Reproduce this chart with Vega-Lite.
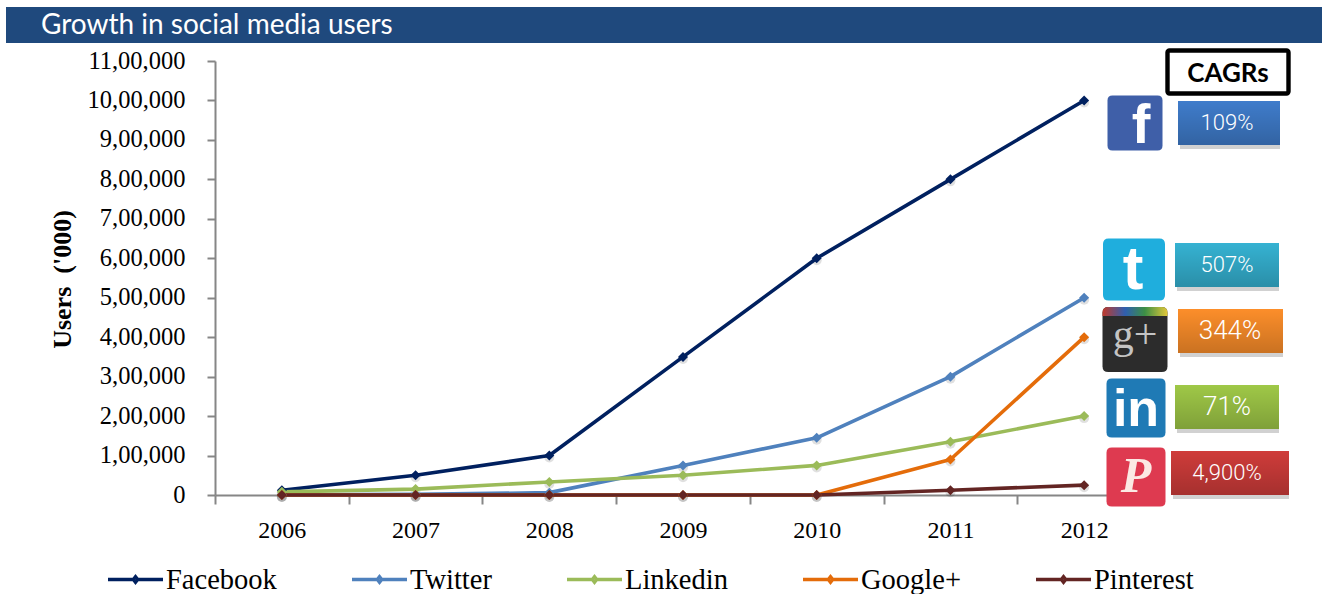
{
  "$schema": "https://vega.github.io/schema/vega-lite/v6.json",
  "autosize": {"type": "none"},
  "padding": {"left": 215, "top": 60, "right": 177, "bottom": 99},
  "width": 936,
  "height": 435,
  "background": "white",
  "config": {"view": {"stroke": null}},
  "datasets": {
    "users": [
      {"year": "2006", "network": "Facebook", "users": 12000},
      {"year": "2007", "network": "Facebook", "users": 50000},
      {"year": "2008", "network": "Facebook", "users": 100000},
      {"year": "2009", "network": "Facebook", "users": 350000},
      {"year": "2010", "network": "Facebook", "users": 600000},
      {"year": "2011", "network": "Facebook", "users": 800000},
      {"year": "2012", "network": "Facebook", "users": 1000000},
      {"year": "2006", "network": "Twitter", "users": 500},
      {"year": "2007", "network": "Twitter", "users": 1500},
      {"year": "2008", "network": "Twitter", "users": 6000},
      {"year": "2009", "network": "Twitter", "users": 75000},
      {"year": "2010", "network": "Twitter", "users": 145000},
      {"year": "2011", "network": "Twitter", "users": 300000},
      {"year": "2012", "network": "Twitter", "users": 500000},
      {"year": "2006", "network": "Linkedin", "users": 8000},
      {"year": "2007", "network": "Linkedin", "users": 15000},
      {"year": "2008", "network": "Linkedin", "users": 33000},
      {"year": "2009", "network": "Linkedin", "users": 50000},
      {"year": "2010", "network": "Linkedin", "users": 75000},
      {"year": "2011", "network": "Linkedin", "users": 135000},
      {"year": "2012", "network": "Linkedin", "users": 200000},
      {"year": "2006", "network": "Google+", "users": 0},
      {"year": "2007", "network": "Google+", "users": 0},
      {"year": "2008", "network": "Google+", "users": 0},
      {"year": "2009", "network": "Google+", "users": 0},
      {"year": "2010", "network": "Google+", "users": 0},
      {"year": "2011", "network": "Google+", "users": 90000},
      {"year": "2012", "network": "Google+", "users": 400000},
      {"year": "2006", "network": "Pinterest", "users": 0},
      {"year": "2007", "network": "Pinterest", "users": 0},
      {"year": "2008", "network": "Pinterest", "users": 0},
      {"year": "2009", "network": "Pinterest", "users": 0},
      {"year": "2010", "network": "Pinterest", "users": 0},
      {"year": "2011", "network": "Pinterest", "users": 12000},
      {"year": "2012", "network": "Pinterest", "users": 25000}
    ],
    "growth": [
      {"network": "Facebook", "cagr": "109%", "slot": 1, "end": 6, "glyph": "f"},
      {"network": "Twitter", "cagr": "507%", "slot": 2, "end": 7, "glyph": "t"},
      {"network": "Google+", "cagr": "344%", "slot": 3, "end": 8, "glyph": "g+"},
      {"network": "Linkedin", "cagr": "71%", "slot": 4, "end": 9, "glyph": "in"},
      {"network": "Pinterest", "cagr": "4,900%", "slot": 5, "end": 10, "glyph": "P"}
    ]
  },
  "layer": [
    {
      "data": {"values": [{"part": "banner"}]},
      "mark": {"type": "rect", "color": "#1F497D"},
      "encoding": {
        "x": {"datum": 0, "type": "quantitative", "scale": {"domain": [0, 1], "range": [-209, 1107]}, "axis": null},
        "x2": {"datum": 1},
        "y": {"datum": 0, "type": "quantitative", "scale": {"domain": [0, 1], "range": [-53, -17]}, "axis": null},
        "y2": {"datum": 1}
      }
    },
    {
      "data": {"values": [{"heading": "Growth in social media users"}]},
      "mark": {"type": "text", "font": "Lato", "fontSize": 28, "color": "#FFFFFF", "align": "left", "baseline": "middle"},
      "encoding": {
        "x": {"datum": 0, "type": "quantitative", "scale": {"domain": [0, 1], "range": [-174, 1107]}, "axis": null},
        "y": {"datum": 0, "type": "quantitative", "scale": {"domain": [0, 1], "range": [-34, 0]}, "axis": null},
        "text": {"field": "heading"}
      }
    },
    {
      "data": {"name": "users"},
      "mark": {"type": "point", "shape": "circle", "filled": true, "size": 100, "color": "#000000", "opacity": 0.12, "yOffset": 2},
      "encoding": {
        "x": {"field": "year", "type": "ordinal", "scale": {"type": "band", "paddingInner": 0, "paddingOuter": 0, "range": [0, 936]}, "axis": null},
        "y": {"field": "users", "type": "quantitative", "scale": {"domain": [0, 1100000], "range": [435, 1]}, "axis": null}
      }
    },
    {
      "data": {"name": "users"},
      "mark": {"type": "line", "strokeWidth": 3.6, "strokeJoin": "round", "strokeCap": "round"},
      "encoding": {
        "x": {
          "field": "year", "type": "ordinal",
          "scale": {"type": "band", "paddingInner": 0, "paddingOuter": 0, "range": [0, 936]},
          "axis": {"title": null, "labelAngle": 0, "labelFont": "Liberation Serif", "labelFontSize": 24, "labelColor": "#000000", "labelPadding": 14, "tickBand": "extent", "tickSize": 9, "tickWidth": 2, "tickColor": "#868686", "domainWidth": 2, "domainColor": "#868686", "grid": false}
        },
        "y": {
          "field": "users", "type": "quantitative",
          "scale": {"domain": [0, 1100000], "range": [435, 1]},
          "axis": {"title": "Users \u00a0('000)", "titleFont": "Liberation Serif", "titleFontWeight": "bold", "titleFontSize": 26, "titleColor": "#000000", "titleX": -140, "titleY": 219, "values": [0, 100000, 200000, 300000, 400000, 500000, 600000, 700000, 800000, 900000, 1000000, 1100000], "labelExpr": "datum.value == 0 ? '0' : (datum.value / 100000) + ',00,000'", "labelFont": "Liberation Serif", "labelFontSize": 24.5, "labelColor": "#000000", "labelPadding": 22, "tickSize": 8, "tickWidth": 2, "tickColor": "#868686", "domainWidth": 2, "domainColor": "#868686", "grid": false}
        },
        "stroke": {
          "field": "network", "type": "nominal",
          "scale": {"domain": ["Facebook", "Twitter", "Linkedin", "Google+", "Pinterest"], "range": ["#00205F", "#4F81BD", "#9BBB59", "#E46C0A", "#632523"]},
          "legend": {"title": null, "orient": "none", "legendX": -109, "legendY": 490, "direction": "horizontal", "columns": 5, "gridAlign": "each", "columnPadding": 68, "symbolType": "M-1,0H-.08L0,-.1L.08,0L0,.1L-.08,0M.08,0H1", "symbolSize": 3025, "symbolStrokeWidth": 3.4, "labelFont": "Liberation Serif", "labelFontSize": 28.5, "labelColor": "#000000", "labelOffset": 1, "labelLimit": 300}
        }
      }
    },
    {
      "data": {"name": "users"},
      "mark": {"type": "point", "shape": "diamond", "filled": true, "size": 100, "strokeWidth": 0.5, "opacity": 1},
      "encoding": {
        "x": {"field": "year", "type": "ordinal", "scale": {"type": "band", "paddingInner": 0, "paddingOuter": 0, "range": [0, 936]}, "axis": null},
        "y": {"field": "users", "type": "quantitative", "scale": {"domain": [0, 1100000], "range": [435, 1]}, "axis": null},
        "fill": {"field": "network", "type": "nominal", "scale": {"domain": ["Facebook", "Twitter", "Linkedin", "Google+", "Pinterest"], "range": ["#00205F", "#4F81BD", "#9BBB59", "#E46C0A", "#632523"]}, "legend": null}
      }
    },
    {
      "data": {"values": [{"heading": "CAGRs"}]},
      "mark": {"type": "rect", "fill": "white", "stroke": "#000000", "strokeWidth": 4.4, "cornerRadius": 2},
      "encoding": {
        "x": {"datum": 0, "type": "quantitative", "scale": {"domain": [0, 1], "range": [952.5, 1073.5]}, "axis": null},
        "x2": {"datum": 1},
        "y": {"datum": 0, "type": "quantitative", "scale": {"domain": [0, 1], "range": [-9.5, 33.5]}, "axis": null},
        "y2": {"datum": 1}
      }
    },
    {
      "data": {"values": [{"heading": "CAGRs"}]},
      "mark": {"type": "text", "font": "Lato", "fontWeight": "bold", "fontSize": 26, "color": "#000000", "align": "center", "baseline": "middle"},
      "encoding": {
        "x": {"datum": 0.5, "type": "quantitative", "scale": {"domain": [0, 1], "range": [952.5, 1073.5]}, "axis": null},
        "y": {"datum": 0.5, "type": "quantitative", "scale": {"domain": [0, 1], "range": [-8, 35]}, "axis": null},
        "text": {"field": "heading"}
      }
    },
    {
      "data": {"name": "growth"},
      "mark": {"type": "bar", "orient": "horizontal", "size": 44, "color": "#000000", "opacity": 0.18, "xOffset": 2, "yOffset": 4},
      "encoding": {
        "x": {"field": "slot", "type": "quantitative", "stack": null, "scale": {"domain": [1, 2, 3, 4, 5, 6, 7, 8, 9, 10], "range": [963, 960, 963, 960, 956, 1065, 1064, 1068, 1064, 1074]}, "axis": null},
        "x2": {"field": "end"},
        "y": {"field": "slot", "type": "quantitative", "scale": {"domain": [1, 2, 3, 4, 5], "range": [63, 205, 271, 347, 413], "padding": 0}, "axis": null}
      }
    },
    {
      "data": {"name": "growth"},
      "mark": {"type": "bar", "orient": "horizontal", "size": 44},
      "encoding": {
        "x": {"field": "slot", "type": "quantitative", "stack": null, "scale": {"domain": [1, 2, 3, 4, 5, 6, 7, 8, 9, 10], "range": [963, 960, 963, 960, 956, 1065, 1064, 1068, 1064, 1074]}, "axis": null},
        "x2": {"field": "end"},
        "y": {"field": "slot", "type": "quantitative", "scale": {"domain": [1, 2, 3, 4, 5], "range": [63, 205, 271, 347, 413], "padding": 0}, "axis": null},
        "fill": {"field": "network", "type": "nominal", "scale": {"domain": ["Facebook", "Twitter", "Google+", "Linkedin", "Pinterest"], "range": ["#3F7CCB", "#35B2D2", "#FC8E2A", "#9FC847", "#CF3C3A"]}, "legend": null}
      }
    },
    {
      "data": {"name": "growth"},
      "mark": {"type": "bar", "orient": "horizontal", "size": 44, "fill": {"gradient": "linear", "x1": 0, "y1": 0, "x2": 0, "y2": 1, "stops": [{"offset": 0, "color": "rgba(0,0,0,0)"}, {"offset": 1, "color": "rgba(0,0,0,0.2)"}]}},
      "encoding": {
        "x": {"field": "slot", "type": "quantitative", "stack": null, "scale": {"domain": [1, 2, 3, 4, 5, 6, 7, 8, 9, 10], "range": [963, 960, 963, 960, 956, 1065, 1064, 1068, 1064, 1074]}, "axis": null},
        "x2": {"field": "end"},
        "y": {"field": "slot", "type": "quantitative", "scale": {"domain": [1, 2, 3, 4, 5], "range": [63, 205, 271, 347, 413], "padding": 0}, "axis": null}
      }
    },
    {
      "data": {"name": "growth"},
      "mark": {"type": "text", "font": "Roboto", "fontWeight": 300, "color": "#FFFFFF", "align": "center", "baseline": "middle"},
      "encoding": {
        "x": {"field": "slot", "type": "quantitative", "scale": {"domain": [1, 2, 3, 4, 5], "range": [1012, 1012, 1015, 1012, 1012]}, "axis": null},
        "y": {"field": "slot", "type": "quantitative", "scale": {"domain": [1, 2, 3, 4, 5], "range": [63, 205, 271, 347, 413]}, "axis": null},
        "size": {"field": "slot", "type": "quantitative", "scale": {"domain": [1, 2, 3, 4, 5], "range": [22, 22, 26, 26, 22]}, "legend": null},
        "text": {"field": "cagr"}
      }
    },
    {
      "data": {"name": "growth"},
      "mark": {"type": "point", "shape": "M-.82,-1H.82Q1,-1 1,-.82V.82Q1,1 .82,1H-.82Q-1,1 -1,.82V-.82Q-1,-1 -.82,-1Z", "filled": true, "opacity": 1},
      "encoding": {
        "x": {"field": "slot", "type": "quantitative", "scale": {"domain": [1, 2, 3, 4, 5], "range": [920, 919, 920, 921, 921]}, "axis": null},
        "y": {"field": "slot", "type": "quantitative", "scale": {"domain": [1, 2, 3, 4, 5], "range": [63, 209.5, 279.5, 348, 417]}, "axis": null},
        "size": {"field": "slot", "type": "quantitative", "scale": {"domain": [1, 2, 3, 4, 5], "range": [3025, 3844, 4225, 3481, 3481]}, "legend": null},
        "fill": {"field": "network", "type": "nominal", "scale": {"domain": ["Facebook", "Twitter", "Google+", "Linkedin", "Pinterest"], "range": ["#3F5FA8", "#1FAEDD", "#2C2C2C", "#1F7AB5", "#DE3A50"]}, "legend": null}
      }
    },
    {
      "data": {"name": "growth"},
      "transform": [{"filter": "datum.slot == 3"}],
      "mark": {"type": "point", "shape": "M-1,-.72V-.82Q-1,-1 -.82,-1H.82Q1,-1 1,-.82V-.72Z", "filled": true, "opacity": 1, "size": 4225, "fill": {"gradient": "linear", "x1": 0, "y1": 0, "x2": 1, "y2": 0, "stops": [{"offset": 0, "color": "#C0392B"}, {"offset": 0.35, "color": "#2F5FB0"}, {"offset": 0.65, "color": "#3C8F45"}, {"offset": 1, "color": "#E2C83A"}]}},
      "encoding": {
        "x": {"datum": 0, "type": "quantitative", "scale": {"domain": [0, 1], "range": [920, 1000]}, "axis": null},
        "y": {"datum": 0, "type": "quantitative", "scale": {"domain": [0, 1], "range": [279.5, 400]}, "axis": null}
      }
    },
    {
      "data": {"name": "growth"},
      "transform": [{"filter": "datum.slot == 1 || datum.slot == 2 || datum.slot == 4"}],
      "mark": {"type": "text", "font": "Liberation Sans", "fontWeight": "bold", "color": "#FFFFFF", "align": "center", "baseline": "middle"},
      "encoding": {
        "x": {"field": "slot", "type": "quantitative", "scale": {"domain": [1, 2, 4], "range": [926, 918, 921]}, "axis": null},
        "y": {"field": "slot", "type": "quantitative", "scale": {"domain": [1, 2, 4], "range": [66, 210, 350]}, "axis": null},
        "size": {"field": "slot", "type": "quantitative", "scale": {"domain": [1, 2, 4], "range": [56, 62, 52]}, "legend": null},
        "text": {"field": "glyph"}
      }
    },
    {
      "data": {"name": "growth"},
      "transform": [{"filter": "datum.slot == 3"}],
      "mark": {"type": "text", "font": "Liberation Serif", "fontSize": 42, "color": "#C4C4C4", "align": "center", "baseline": "middle"},
      "encoding": {
        "x": {"datum": 0, "type": "quantitative", "scale": {"domain": [0, 1], "range": [920, 1000]}, "axis": null},
        "y": {"datum": 0, "type": "quantitative", "scale": {"domain": [0, 1], "range": [275, 400]}, "axis": null},
        "text": {"field": "glyph"}
      }
    },
    {
      "data": {"name": "growth"},
      "transform": [{"filter": "datum.slot == 5"}],
      "mark": {"type": "text", "font": "Liberation Serif", "fontStyle": "italic", "fontWeight": "bold", "fontSize": 50, "color": "#FBE9E4", "align": "center", "baseline": "middle"},
      "encoding": {
        "x": {"datum": 0, "type": "quantitative", "scale": {"domain": [0, 1], "range": [921, 1000]}, "axis": null},
        "y": {"datum": 0, "type": "quantitative", "scale": {"domain": [0, 1], "range": [417, 500]}, "axis": null},
        "text": {"field": "glyph"}
      }
    }
  ],
  "resolve": {"scale": {"x": "independent", "y": "independent", "fill": "independent", "size": "independent"}}
}
